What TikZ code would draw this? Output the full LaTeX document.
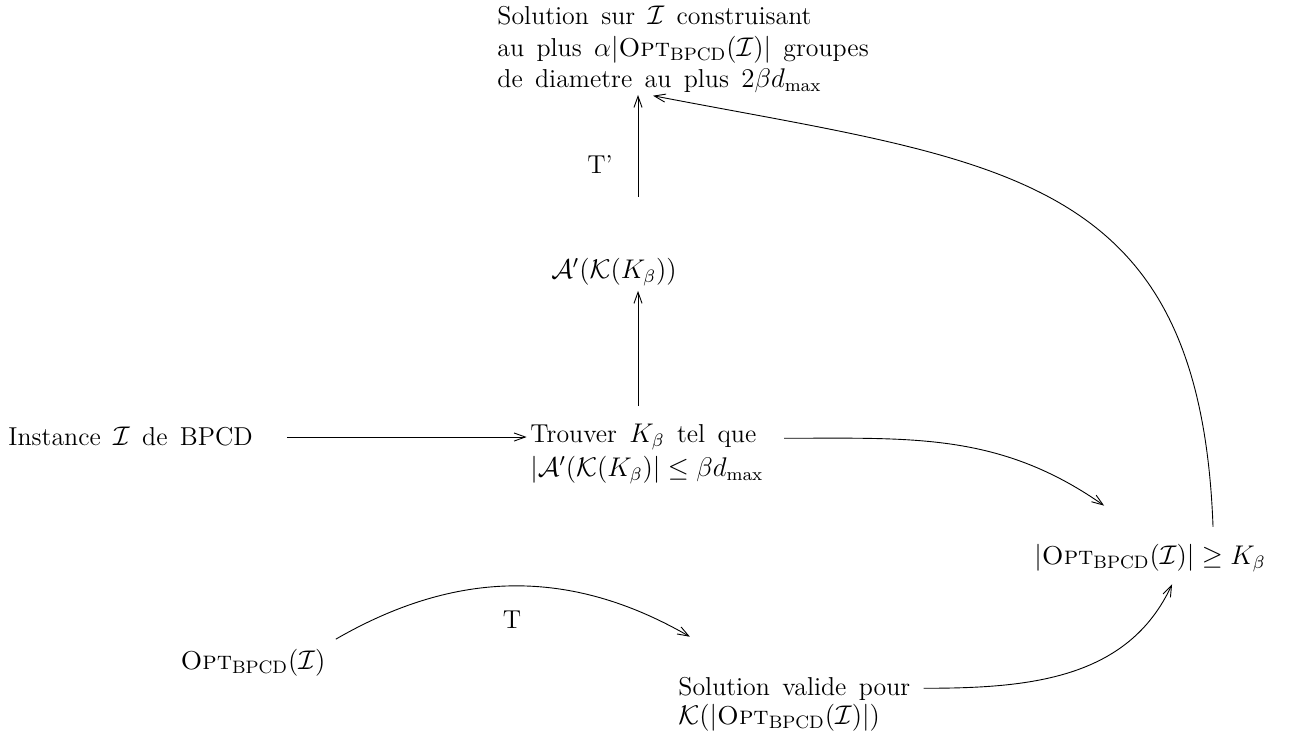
\documentclass[tikz,border=0pt]{standalone}
\usepackage{amsmath}
\usepackage{amsfonts}
\usepackage{tikz}
\usetikzlibrary{arrows.meta,calc}
\newcommand{\nodefont}{\fontsize{11.5}{12.7}\selectfont\spaceskip=5.5pt plus 1pt minus 1pt\relax}
\tikzstyle{txt}=[inner sep=0pt,font=\nodefont]
\tikzstyle{arr}=[->,>={Straight Barb[length=5pt,width=3.6pt]},draw]
\newcommand{\OptB}{\textsc{Opt}_{\mathrm{BPCD}}}

\begin{document}
\begin{tikzpicture}[x=0.4444pt,y=-0.4444pt]
  \useasboundingbox (0,0) rectangle (1299,740);
  % noeuds
  \node[txt,anchor=west,align=left] (top) at (497,49)
    {Solution sur $\mathcal{I}$ construisant\\[1.5pt]
     au plus $\alpha|\OptB(\mathcal{I})|$ groupes\\[1pt]
     de diametre au plus $2\beta d_{\max}$};
  \node[txt] (tprime) at (600,165) {T'};
  \node[txt] (aprime) at (614,272) {$\mathcal{A}'(\mathcal{K}(K_\beta))$};
  \node[txt,anchor=west] (inst) at (8,437) {Instance $\mathcal{I}$ de BPCD};
  \node[txt,anchor=west,align=left] (trouv) at (530,454)
    {Trouver $K_\beta$ tel que\\[2pt]
     $|\mathcal{A}'(\mathcal{K}(K_\beta)|\leq\beta d_{\max}$};
  \node[txt] (kb) at (1150,558) {$|\OptB(\mathcal{I})|\geq K_\beta$};
  \node[txt] (opt) at (253,663) {$\OptB(\mathcal{I})$};
  \node[txt] (tlabel) at (512,620) {T};
  \node[txt,anchor=west,align=left] (sol) at (678,704)
    {Solution valide pour\\
     $\mathcal{K}(|\OptB(\mathcal{I})|)$};
  \coordinate (vx) at ([xshift=48pt]trouv.north west);
  \coordinate (topin) at ($(vx |- top.south)+(15,3)$);
  % fleches
  \draw[arr,shorten <=15pt,shorten >=1.5pt] (inst.east) -- (inst.east -| trouv.west);
  \draw[arr,shorten <=8pt,shorten >=2pt] (vx) -- (vx |- aprime.south);
  \draw[arr,shorten <=27pt,shorten >=1pt] (vx |- aprime.north) -- (vx |- top.south);
  \draw[arr] ([xshift=9pt,yshift=7pt]trouv.east) to[out=0,in=145] ([xshift=-20.4pt,yshift=16.9pt]kb.north);
  \draw[arr] ([xshift=28pt,yshift=7.5pt]kb.north) .. controls +(-13,-357) and +(348,67) .. (topin);
  \draw[arr] ([xshift=4.4pt,yshift=4.4pt]opt.north east) to[out=30,in=150] ([xshift=5.3pt,yshift=17.8pt]sol.north west);
  \draw[arr] ([xshift=5.8pt,yshift=7pt]sol.east) to[out=0,in=245] ([xshift=9.8pt,yshift=-5.3pt]kb.south);
\end{tikzpicture}
\end{document}
